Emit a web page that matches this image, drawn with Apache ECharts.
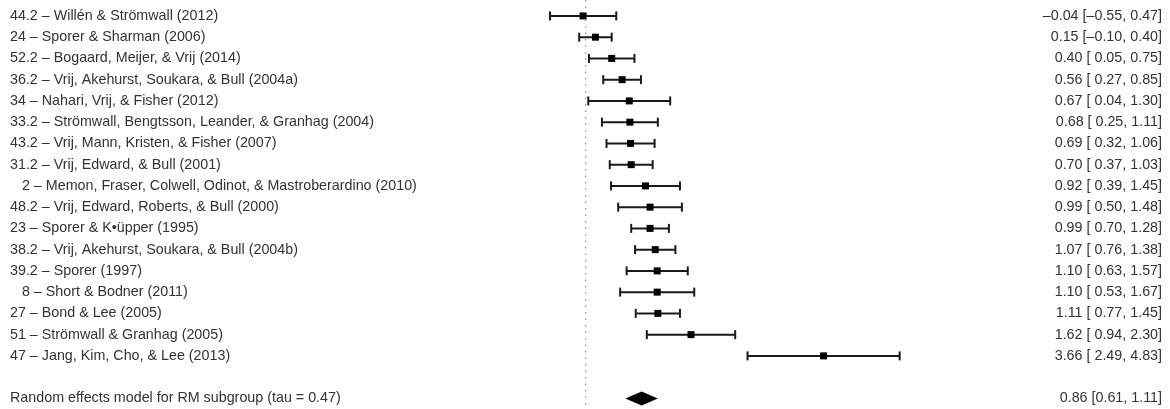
<!DOCTYPE html>
<html>
<head>
<meta charset="utf-8">
<script src="https://cdn.jsdelivr.net/npm/echarts@6/dist/echarts.min.js"></script>
<style>
  html, body { margin: 0; padding: 0; background: #fff; }
  #chart { width: 1170px; height: 409px; }
</style>
</head>
<body>
<div id="chart"></div>
<script>
// Study labels, effect sizes and 95% confidence limits
const studies = [
  '44.2 \u2013 Willén & Strömwall (2012)',
  '24 \u2013 Sporer & Sharman (2006)',
  '52.2 \u2013 Bogaard, Meijer, & Vrij (2014)',
  '36.2 \u2013 Vrij, Akehurst, Soukara, & Bull (2004a)',
  '34 \u2013 Nahari, Vrij, & Fisher (2012)',
  '33.2 \u2013 Strömwall, Bengtsson, Leander, & Granhag (2004)',
  '43.2 \u2013 Vrij, Mann, Kristen, & Fisher (2007)',
  '31.2 \u2013 Vrij, Edward, & Bull (2001)',
  '\u2007 2 \u2013 Memon, Fraser, Colwell, Odinot, & Mastroberardino (2010)',
  '48.2 \u2013 Vrij, Edward, Roberts, & Bull (2000)',
  '23 \u2013 Sporer & K\u2022üpper (1995)',
  '38.2 \u2013 Vrij, Akehurst, Soukara, & Bull (2004b)',
  '39.2 \u2013 Sporer (1997)',
  '\u2007 8 \u2013 Short & Bodner (2011)',
  '27 \u2013 Bond & Lee (2005)',
  '51 \u2013 Strömwall & Granhag (2005)',
  '47 \u2013 Jang, Kim, Cho, & Lee (2013)'
];
const estimates = [-0.04, 0.15, 0.40, 0.56, 0.67, 0.68, 0.69, 0.70, 0.92, 0.99, 0.99, 1.07, 1.10, 1.10, 1.11, 1.62, 3.66];
const lowerCI   = [-0.55, -0.10, 0.05, 0.27, 0.04, 0.25, 0.32, 0.37, 0.39, 0.50, 0.70, 0.76, 0.63, 0.53, 0.77, 0.94, 2.49];
const upperCI   = [0.47, 0.40, 0.75, 0.85, 1.30, 1.11, 1.06, 1.03, 1.45, 1.48, 1.28, 1.38, 1.57, 1.67, 1.45, 2.30, 4.83];

// Pooled random-effects estimate
const summaryLabel = 'Random effects model for RM subgroup (tau = 0.47)';
const summary = { est: 0.86, lo: 0.61, hi: 1.11 };

const fmt = v => (v < 0 ? '\u2013' : '') + Math.abs(v).toFixed(2);
const fmtPad = v => (v < 0 ? '\u2013' : ' ') + Math.abs(v).toFixed(2);

const rowNames = studies.concat(['', summaryLabel]);
const rowStats = studies.map((s, i) => fmt(estimates[i]) + ' [' + fmtPad(lowerCI[i]) + ', ' + fmt(upperCI[i]) + ']')
  .concat(['', fmt(summary.est) + ' [' + fmt(summary.lo) + ', ' + fmt(summary.hi) + ']']);
const summaryRow = rowNames.length - 1;

const studyData = estimates.map((e, i) => [i, e, lowerCI[i], upperCI[i]]);

const chart = echarts.init(document.getElementById('chart'), null, { renderer: 'canvas' });
const textStyle = { fontFamily: 'Liberation Sans, Arial, sans-serif', fontSize: 14.3, color: '#333' };

chart.setOption({
  animation: false,
  backgroundColor: '#ffffff',
  grid: { left: 520.7, right: 259.3, top: 5.3, height: 406.1 },
  xAxis: { type: 'value', min: -1, max: 5, show: false },
  yAxis: [
    {
      type: 'category', data: rowNames, inverse: true, position: 'left',
      axisLine: { show: false }, axisTick: { show: false }, splitLine: { show: false },
      axisLabel: Object.assign({ interval: 0, align: 'left', margin: 510.7 }, textStyle)
    },
    {
      type: 'category', data: rowStats, inverse: true, position: 'right',
      axisLine: { show: false }, axisTick: { show: false }, splitLine: { show: false },
      axisLabel: Object.assign({ interval: 0, align: 'right', margin: 251.3 }, textStyle)
    }
  ],
  series: [
    {
      // reference line at zero effect
      type: 'custom',
      clip: false,
      data: [[0]],
      renderItem: (params, api) => {
        const x = api.coord([api.value(0), 0])[0];
        return {
          type: 'line',
          shape: { x1: x, y1: 0, x2: x, y2: api.getHeight() },
          style: { stroke: '#777', lineWidth: 1, lineDash: [1.5, 5] }
        };
      }
    },
    {
      // study estimates with confidence intervals
      type: 'custom',
      data: studyData,
      renderItem: (params, api) => {
        const row = api.value(0);
        const c = api.coord([api.value(1), row]);
        const l = api.coord([api.value(2), row]);
        const h = api.coord([api.value(3), row]);
        const cap = 4.5, sq = 7;
        const ls = { stroke: '#1a1a1a', lineWidth: 2 };
        return {
          type: 'group',
          children: [
            { type: 'line', shape: { x1: l[0], y1: c[1], x2: h[0], y2: c[1] }, style: ls },
            { type: 'line', shape: { x1: l[0], y1: c[1] - cap, x2: l[0], y2: c[1] + cap }, style: ls },
            { type: 'line', shape: { x1: h[0], y1: c[1] - cap, x2: h[0], y2: c[1] + cap }, style: ls },
            { type: 'rect', shape: { x: c[0] - sq / 2, y: c[1] - sq / 2, width: sq, height: sq }, style: { fill: '#000' } }
          ]
        };
      }
    },
    {
      // pooled estimate diamond
      type: 'custom',
      data: [[summaryRow, summary.est, summary.lo, summary.hi]],
      renderItem: (params, api) => {
        const row = api.value(0);
        const c = api.coord([api.value(1), row]);
        const l = api.coord([api.value(2), row]);
        const h = api.coord([api.value(3), row]);
        const hh = 7;
        return {
          type: 'polygon',
          shape: { points: [[l[0], c[1]], [c[0], c[1] - hh], [h[0], c[1]], [c[0], c[1] + hh]] },
          style: { fill: '#000' }
        };
      }
    }
  ]
});
</script>
</body>
</html>
